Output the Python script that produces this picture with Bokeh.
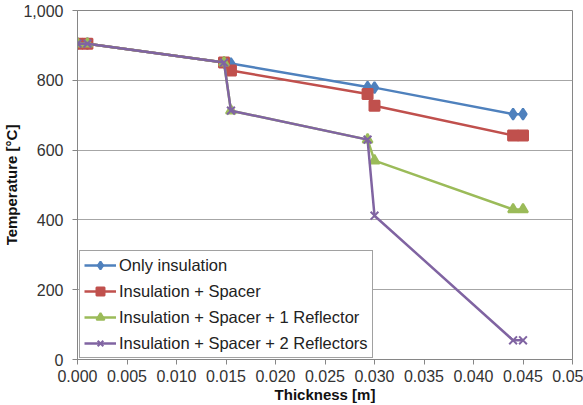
from bokeh.plotting import figure
from bokeh.models import Range1d, FixedTicker, NumeralTickFormatter, Legend
from bokeh.embed import file_html
from bokeh.resources import INLINE

# Data
thickness = [0.0, 0.001, 0.0148, 0.0155, 0.0293, 0.030, 0.044, 0.045]
only_insulation = [905, 905, 851, 848, 781, 779, 703, 703]
ins_spacer = [905, 905, 851, 828, 761, 727, 642, 642]
ins_spacer_1refl = [905, 905, 851, 713, 630, 570, 430, 430]
ins_spacer_2refl = [905, 905, 851, 713, 630, 412, 55, 55]

series_names = [
    "Only insulation",
    "Insulation + Spacer",
    "Insulation + Spacer + 1 Reflector",
    "Insulation + Spacer + 2 Reflectors",
]
x_ticks = [0.0, 0.005, 0.010, 0.015, 0.020, 0.025, 0.030, 0.035, 0.040, 0.045, 0.050]
y_ticks = [0, 200, 400, 600, 800, 1000]

colors = ["#4F81BD", "#C0504D", "#9BBB59", "#8064A2"]
markers = ["diamond", "square", "triangle", "x"]
sizes = [11, 10, 10, 11]

p = figure(width=583, height=405, output_backend="svg", toolbar_location=None,
           x_range=Range1d(0, 0.05), y_range=Range1d(0, 1000),
           min_border_left=73, min_border_right=11, min_border_top=10, min_border_bottom=46)

p.outline_line_color = "#868686"
p.outline_line_width = 1
p.background_fill_color = "white"
p.border_fill_color = "white"

p.xgrid.grid_line_color = None
p.ygrid.grid_line_color = "#A6A6A6"
p.ygrid.grid_line_width = 1

p.xaxis.ticker = FixedTicker(ticks=x_ticks)
p.yaxis.ticker = FixedTicker(ticks=y_ticks)
p.xaxis.formatter = NumeralTickFormatter(format="0.000")
p.yaxis.formatter = NumeralTickFormatter(format="0,0")
p.xaxis.major_label_overrides = {0.05: "0.05"}

for ax in (p.xaxis, p.yaxis):
    ax.axis_line_color = "#868686"
    ax.major_tick_line_color = "#868686"
    ax.minor_tick_line_color = None
    ax.major_tick_out = 5
    ax.major_tick_in = 0
    ax.major_label_text_font = "Liberation Sans"
    ax.major_label_text_font_size = "16px"
    ax.major_label_text_color = "#333333"
    ax.axis_label_text_font = "Liberation Sans"
    ax.axis_label_text_font_size = "15px"
    ax.axis_label_text_font_style = "bold"
    ax.axis_label_text_color = "#111111"

p.xaxis.axis_label = "Thickness [m]"
p.yaxis.axis_label = "Temperature [°C]"
p.xaxis.major_label_standoff = 5
p.xaxis.axis_label_standoff = 1
p.yaxis.major_label_standoff = 9
p.yaxis.axis_label_standoff = 0

all_series = [only_insulation, ins_spacer, ins_spacer_1refl, ins_spacer_2refl]
items = []
for name, ys, c, m, s in zip(series_names, all_series, colors, markers, sizes):
    r1 = p.line(thickness, ys, line_color=c, line_width=2.5)
    r2 = p.scatter(thickness, ys, marker=m, size=s, fill_color=c, line_color=c, line_width=2)
    items.append((name, [r1, r2]))

legend = Legend(items=items, location=(2, 1))
legend.label_text_font = "Liberation Sans"
legend.label_text_font_size = "16.5px"
legend.label_text_color = "#222222"
legend.glyph_width = 32
legend.glyph_height = 20
legend.label_height = 20
legend.label_standoff = 3
legend.spacing = 6
legend.padding = 4
legend.margin = 0
legend.border_line_color = "#444444"
legend.border_line_width = 1.5
legend.background_fill_color = "white"
legend.background_fill_alpha = 1
p.add_layout(legend, "center")

open("out.html", "w").write(file_html(p, INLINE))
